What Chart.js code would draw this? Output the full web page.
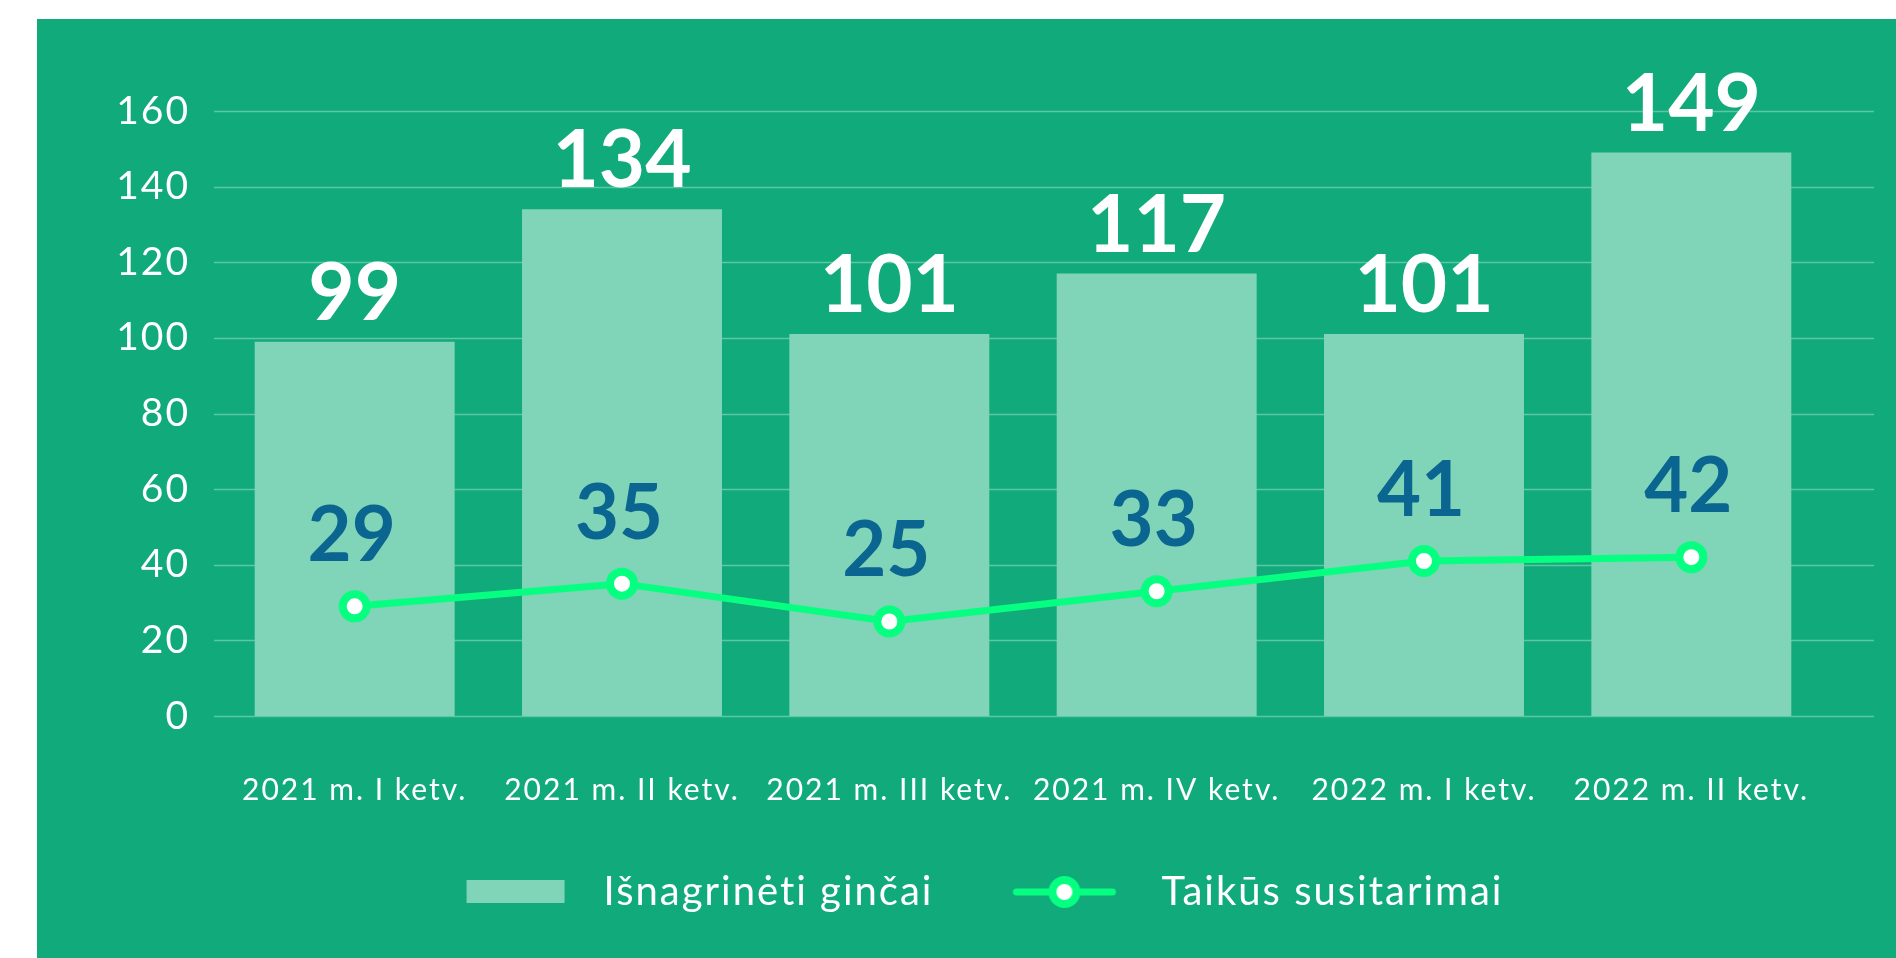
<!DOCTYPE html>
<html>
<head>
<meta charset="utf-8">
<script src="https://cdn.jsdelivr.net/npm/chart.js@4.4.0/dist/chart.umd.min.js"></script>
<style>
  html, body { margin: 0; padding: 0; background: #ffffff; }
  #panel { position: absolute; left: 37px; top: 19px; width: 1859px; height: 939px; background: #11ab7b; }
</style>
</head>
<body>
<div id="panel"><canvas id="chart" width="1859" height="939"></canvas></div>
<script>
// data
const quarters = ['2021 m. I ketv.', '2021 m. II ketv.', '2021 m. III ketv.', '2021 m. IV ketv.', '2022 m. I ketv.', '2022 m. II ketv.'];
const disputes = [99, 134, 101, 117, 101, 149];
const settlements = [29, 35, 25, 33, 41, 42];
const seriesNames = ['Išnagrinėti ginčai', 'Taikūs susitarimai'];

const barColor = '#80d4b7';
const lineColor = '#06ff80';
const blueText = '#0a6590';
const gridColor = 'rgba(255,255,255,0.32)';

// legend icons: swatch and line with marker
function makeIcon(kind) {
    const c = document.createElement('canvas');
    c.width = 144;
    c.height = 40;
    const g = c.getContext('2d');
    if (kind === 'bar') {
        g.fillStyle = barColor;
        g.fillRect(27, 8, 98, 23);
    } else {
        g.strokeStyle = lineColor;
        g.lineWidth = 7;
        g.lineCap = 'round';
        g.beginPath();
        g.moveTo(19, 20);
        g.lineTo(115, 20);
        g.stroke();
        g.beginPath();
        g.arc(67, 20, 12, 0, Math.PI * 2);
        g.fillStyle = '#ffffff';
        g.fill();
        g.lineWidth = 8;
        g.stroke();
    }
    return c;
}
const legendIcons = [makeIcon('bar'), makeIcon('line')];

// the original font is a bit wider than Lato
const spacing = {
    id: 'spacing',
    beforeUpdate(chart) { chart.ctx.letterSpacing = '2px'; },
    beforeDraw(chart) { chart.ctx.letterSpacing = '2px'; }
};

// horizontal grid lines, a bit wider than the plot area
const wideGrid = {
    id: 'wideGrid',
    beforeDatasetsDraw(chart) {
        const {ctx, chartArea, scales: {y}} = chart;
        ctx.save();
        ctx.strokeStyle = gridColor;
        ctx.lineWidth = 1.5;
        y.ticks.forEach(t => {
            const py = Math.round(y.getPixelForValue(t.value)) + 0.5;
            ctx.beginPath();
            ctx.moveTo(chartArea.left - 7, py);
            ctx.lineTo(chartArea.right + 49, py);
            ctx.stroke();
        });
        ctx.restore();
    }
};

// numbers above bars and points
const valueLabels = {
    id: 'valueLabels',
    afterDatasetsDraw(chart) {
        const ctx = chart.ctx;
        ctx.save();
        ctx.letterSpacing = '0px';
        ctx.textAlign = 'center';
        ctx.textBaseline = 'alphabetic';
        chart.getDatasetMeta(0).data.forEach((el, i) => {
            ctx.font = 'bold 80px Lato';
            ctx.fillStyle = '#ffffff';
            ctx.fillText(disputes[i], el.x, el.y - 22);
        });
        chart.getDatasetMeta(1).data.forEach((el, i) => {
            ctx.font = 'bold 76px Lato';
            ctx.fillStyle = blueText;
            ctx.fillText(settlements[i], el.x - 3, el.y - 45);
        });
        ctx.restore();
    }
};

const chart = new Chart(document.getElementById('chart'), {
    data: {
        labels: quarters,
        datasets: [{
            type: 'bar',
            label: seriesNames[0],
            data: disputes,
            backgroundColor: barColor,
            borderWidth: 0,
            categoryPercentage: 1,
            barPercentage: 0.748,
            order: 1
        }, {
            type: 'line',
            label: seriesNames[1],
            data: settlements,
            borderColor: lineColor,
            borderWidth: 7,
            pointRadius: 12,
            pointHoverRadius: 12,
            pointBorderWidth: 8,
            pointBackgroundColor: '#ffffff',
            pointBorderColor: lineColor,
            tension: 0,
            order: 0
        }]
    },
    options: {
        responsive: false,
        animation: false,
        devicePixelRatio: 1,
        layout: {
            padding: {top: 92, left: 81, right: 71, bottom: 36}
        },
        scales: {
            x: {
                grid: {display: false, drawTicks: false},
                border: {display: false},
                ticks: {color: '#ffffff', font: {family: 'Lato', size: 30}, padding: 56, maxRotation: 0},
                afterFit(scale) { scale.height = 92; }
            },
            y: {
                min: 0,
                max: 160,
                grid: {display: false, drawTicks: false},
                border: {display: false},
                ticks: {stepSize: 20, color: '#ffffff', font: {family: 'Lato', size: 39}, padding: 31},
                afterFit(scale) { scale.width = 103; }
            }
        },
        plugins: {
            tooltip: {enabled: false},
            legend: {
                position: 'bottom',
                labels: {
                    usePointStyle: true,
                    pointStyleWidth: 144,
                    padding: 64,
                    color: '#ffffff',
                    font: {family: 'Lato', size: 40},
                    generateLabels(chart) {
                        return chart.data.datasets.map((ds, i) => ({
                            text: ds.label,
                            pointStyle: legendIcons[i],
                            fillStyle: 'rgba(0,0,0,0)',
                            strokeStyle: 'rgba(0,0,0,0)',
                            lineWidth: 0,
                            fontColor: '#ffffff',
                            hidden: false,
                            datasetIndex: i
                        }));
                    }
                }
            }
        }
    },
    plugins: [spacing, wideGrid, valueLabels]
});
</script>
</body>
</html>
